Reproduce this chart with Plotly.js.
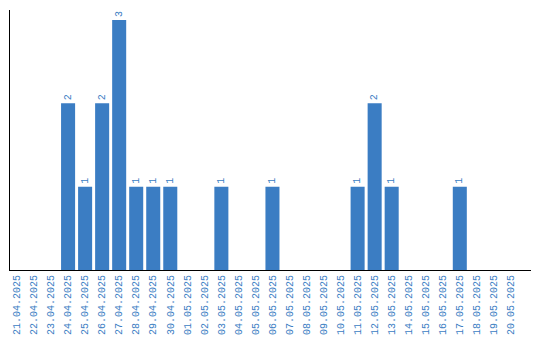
<!DOCTYPE html>
<html><head><meta charset="utf-8">
<script src="https://cdn.plot.ly/plotly-3.0.1.min.js"></script>
<style>html,body{margin:0;padding:0;background:#fff}#chart{width:540px;height:340px}</style>
</head><body><div id="chart"></div>
<script>
const dates = ["21.04.2025","22.04.2025","23.04.2025","24.04.2025","25.04.2025","26.04.2025","27.04.2025","28.04.2025","29.04.2025","30.04.2025","01.05.2025","02.05.2025","03.05.2025","04.05.2025","05.05.2025","06.05.2025","07.05.2025","08.05.2025","09.05.2025","10.05.2025","11.05.2025","12.05.2025","13.05.2025","14.05.2025","15.05.2025","16.05.2025","17.05.2025","18.05.2025","19.05.2025","20.05.2025"];
const counts = [0,0,0,2,1,2,3,1,1,1,0,0,1,0,0,1,0,0,0,0,1,2,1,0,0,0,1,0,0,0];
const labels = counts.map(v => v > 0 ? String(v) : "");
const blue = "#3b7dc3";
Plotly.newPlot("chart", [{
  type: "bar", x: dates, y: counts, text: labels,
  textposition: "outside", textangle: -90, cliponaxis: false,
  textfont: {family: "Liberation Mono", size: 10, color: blue},
  marker: {color: blue}, hoverinfo: "none"
}], {
  width: 540, height: 340,
  margin: {l: 10, r: 9, t: 10, b: 70, pad: 0},
  paper_bgcolor: "#fff", plot_bgcolor: "#fff",
  bargap: 0.176, showlegend: false,
  xaxis: {type: "category", range: [-0.41, 30.18], showline: true, linecolor: "#000", linewidth: 1,
    showgrid: false, ticks: "", tickangle: -90,
    tickfont: {family: "Liberation Mono", size: 10, color: blue}, automargin: false},
  yaxis: {range: [0, 3.12], showline: true, linecolor: "#000", linewidth: 1,
    showgrid: false, zeroline: false, showticklabels: false, ticks: ""}
}, {displayModeBar: false, staticPlot: true});
</script></body></html>
